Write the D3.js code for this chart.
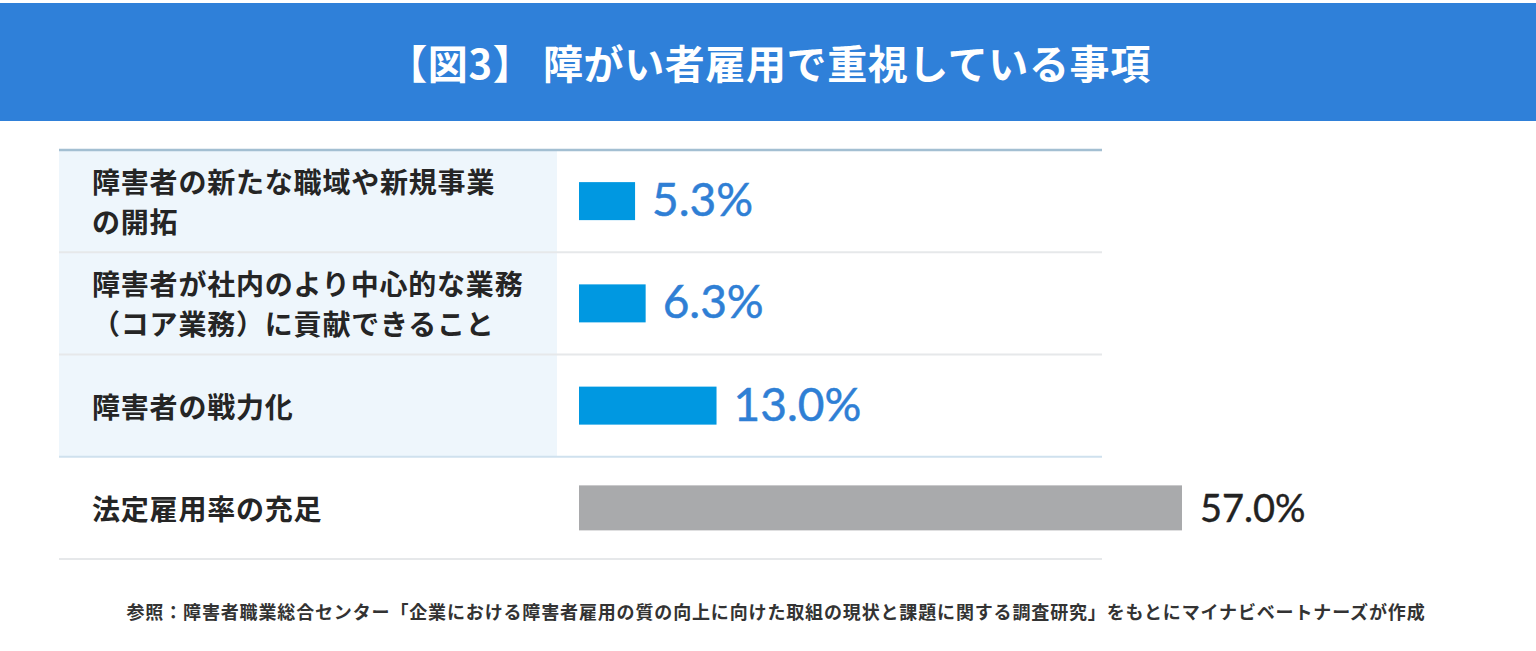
<!DOCTYPE html>
<html lang="ja">
<head>
<meta charset="utf-8">
<script src="https://cdn.jsdelivr.net/npm/d3@7"></script>
<style>
  html, body { margin: 0; padding: 0; background: #fff; }
  svg { display: block; }
</style>
</head>
<body>
<div id="chart"></div>
<script>
// data
const title = "【図3】 障がい者雇用で重視している事項";
const labels = [
  ["障害者の新たな職域や新規事業", "の開拓"],
  ["障害者が社内のより中心的な業務", "（コア業務）に貢献できること"],
  ["障害者の戦力化"],
  ["法定雇用率の充足"]
];
const values = [5.3, 6.3, 13.0, 57.0];
const groups = ["new", "new", "new", "legal"];
const note = "参照：障害者職業総合センター「企業における障害者雇用の質の向上に向けた取組の現状と課題に関する調査研究」をもとにマイナビベートナーズが作成";

const width = 1536, height = 651;
const table = { left: 59, right: 1102, top: 150, bottom: 559, labelRight: 557 };
const barX = 579;

const svg = d3.select("#chart")
  .append("svg")
  .attr("width", width)
  .attr("height", height);

// Header
svg.append("rect")
  .attr("x", 0).attr("y", 3)
  .attr("width", width).attr("height", 118)
  .attr("fill", "#2f80d9");

svg.append("text")
  .attr("x", 769).attr("y", 62)
  .attr("text-anchor", "middle")
  .attr("dominant-baseline", "central")
  .attr("fill", "#fff")
  .attr("font-family", "'Noto Sans CJK JP', sans-serif")
  .attr("font-weight", 700)
  .attr("font-size", 40)
  .attr("letter-spacing", 0.6)
  .text(title);

// Scales
const y = d3.scaleBand()
  .domain(d3.range(values.length))
  .range([table.top, table.bottom]);

const x = d3.scaleLinear()
  .domain([0, 57])
  .range([0, 603]);

const barColor = d3.scaleOrdinal()
  .domain(["new", "legal"])
  .range(["#0098e1", "#a9aaac"]);

const valueColor = d3.scaleOrdinal()
  .domain(["new", "legal"])
  .range(["#2f7fd5", "#222222"]);

// Label column background (highlighted rows only)
const rows = svg.append("g");
rows.selectAll("rect.bg")
  .data(values.map((v, i) => i).filter(i => groups[i] === "new"))
  .join("rect")
  .attr("class", "bg")
  .attr("x", table.left)
  .attr("y", i => y(i))
  .attr("width", table.labelRight - table.left)
  .attr("height", y.bandwidth())
  .attr("fill", "#eef6fc");

// Row lines
const lineYs = d3.range(values.length + 1).map(i => i < values.length ? y(i) : table.bottom);
rows.selectAll("line")
  .data(lineYs)
  .join("line")
  .attr("x1", table.left).attr("x2", table.right)
  .attr("y1", d => d).attr("y2", d => d)
  .attr("stroke", (d, i) => i === 0 ? "#a3bfd2" : i === 3 ? "#cfe1ee" : "#e6e8ea")
  .attr("stroke-width", (d, i) => i === 0 ? 2.5 : 2);

// Category labels
const lab = svg.append("g")
  .attr("font-family", "'Noto Sans CJK JP', sans-serif")
  .attr("font-weight", 700)
  .attr("font-size", 28)
  .attr("letter-spacing", 0.8)
  .attr("fill", "#252525");

lab.selectAll("text")
  .data(labels)
  .join("text")
  .attr("x", 92)
  .attr("y", (d, i) => y(i) + y.bandwidth() / 2)
  .attr("dominant-baseline", "central")
  .each(function (d) {
    const t = d3.select(this);
    const y0 = +t.attr("y");
    t.selectAll("tspan")
      .data(d)
      .join("tspan")
      .attr("x", 92)
      .attr("y", (s, j) => y0 + (j - (d.length - 1) / 2) * 40)
      .text(s => s);
  });

// Bars
const bh = i => groups[i] === "new" ? 38 : 45;
svg.append("g")
  .selectAll("rect")
  .data(values)
  .join("rect")
  .attr("x", barX)
  .attr("y", (d, i) => y(i) + y.bandwidth() / 2 - bh(i) / 2)
  .attr("width", d => x(d))
  .attr("height", (d, i) => bh(i))
  .attr("fill", (d, i) => barColor(groups[i]));

// Value labels
svg.append("g")
  .attr("font-family", "Lato, 'Open Sans', sans-serif")
  .selectAll("text")
  .data(values)
  .join("text")
  .attr("x", (d, i) => barX + x(d) + (groups[i] === "new" ? 17 : 18))
  .attr("y", (d, i) => y(i) + y.bandwidth() / 2 + (groups[i] === "new" ? 15 : 14))
  .attr("fill", (d, i) => valueColor(groups[i]))
  .attr("stroke", (d, i) => valueColor(groups[i]))
  .attr("stroke-width", (d, i) => groups[i] === "new" ? 0.5 : 0.4)
  .attr("font-size", (d, i) => groups[i] === "new" ? 46 : 38)
  .text(d => d3.format(".1f")(d) + "%");

// Note
svg.append("text")
  .attr("x", 776).attr("y", 611)
  .attr("text-anchor", "middle")
  .attr("dominant-baseline", "central")
  .attr("fill", "#333")
  .attr("font-family", "'Noto Sans CJK JP', sans-serif")
  .attr("font-weight", 700)
  .attr("font-size", 18)
  .attr("letter-spacing", 0.85)
  .text(note);
</script>
</body>
</html>
